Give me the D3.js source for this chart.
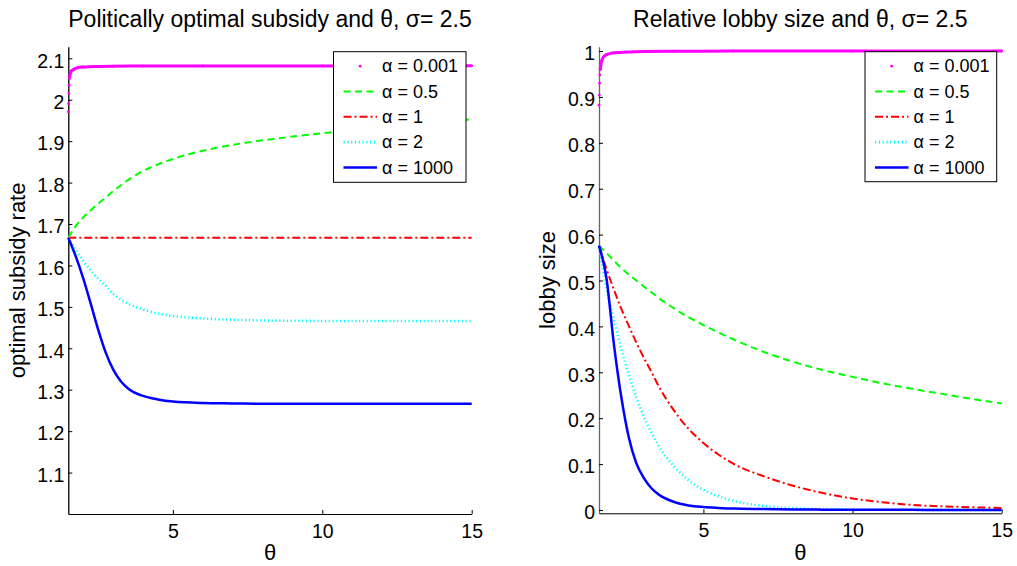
<!DOCTYPE html>
<html><head><meta charset="utf-8">
<script src="https://cdn.jsdelivr.net/npm/d3@7"></script>
<style>
body{margin:0;background:#fff}
svg{display:block}
text{font-family:"Liberation Sans",Arial,Helvetica,sans-serif;fill:#000}
</style></head>
<body><svg id="chart" width="1017" height="566"></svg>
<script>
// ---------- data ----------
const legendLabels = ["α = 0.001", "α = 0.5", "α = 1", "α = 2", "α = 1000"];
const xTicks = [5, 10, 15];
const yTicksLeft = [1.1, 1.2, 1.3, 1.4, 1.5, 1.6, 1.7, 1.8, 1.9, 2, 2.1];
const yTicksRight = [0, 0.1, 0.2, 0.3, 0.4, 0.5, 0.6, 0.7, 0.8, 0.9, 1];

// left panel: politically optimal subsidy
const thetaL = [1.5,1.75,2,2.25,2.5,2.75,3,3.25,3.5,4,4.5,5,6,7,8,9,10,11,12,13,14,15];
const subsidyA05 = [1.667,1.695,1.716,1.733,1.749,1.764,1.779,1.793,1.806,1.828,1.844,1.857,1.877,1.891,1.902,1.911,1.919,1.926,1.932,1.939,1.946,1.953];
const subsidyA1 = [1.6667,1.6667,1.6667,1.6667,1.6667,1.6667,1.6667,1.6667,1.6667,1.6667,1.6667,1.6667,1.6667,1.6667,1.6667,1.6667,1.6667,1.6667,1.6667,1.6667,1.6667,1.6667];
const subsidyA2 = [1.667,1.637,1.611,1.588,1.568,1.551,1.532,1.518,1.508,1.494,1.484,1.478,1.472,1.469,1.467,1.4665,1.466,1.466,1.466,1.466,1.466,1.466];
const subsidyA1000 = [1.667,1.622,1.569,1.508,1.445,1.390,1.349,1.321,1.303,1.285,1.2765,1.2715,1.268,1.267,1.266,1.266,1.266,1.266,1.266,1.266,1.266,1.266];
const thetaML = [1.5,1.51,1.52,1.53,1.54,1.56,1.6,1.7,1.8,2,2.5,3,4,6,10,15];
const subsidyA0001 = [1.971,1.991,2.015,2.035,2.051,2.062,2.069,2.074,2.077,2.079,2.0805,2.081,2.0812,2.0815,2.0817,2.0818];

// right panel: relative lobby size
const thetaR = [1.5,1.75,2,2.25,2.5,2.75,3,3.25,3.5,4,4.5,5,5.5,6,7,8,9,10,11,12,13,14,15];
const lobbyA05 = [0.576,0.560,0.543,0.527,0.513,0.500,0.487,0.475,0.462,0.440,0.420,0.403,0.387,0.372,0.345,0.323,0.305,0.290,0.276,0.264,0.253,0.242,0.232];
const lobbyA1 = [0.576,0.525,0.480,0.438,0.401,0.365,0.332,0.302,0.270,0.218,0.177,0.146,0.121,0.101,0.074,0.053,0.037,0.025,0.017,0.011,0.008,0.006,0.0045];
const lobbyA2 = [0.576,0.482,0.415,0.350,0.295,0.246,0.204,0.170,0.140,0.096,0.065,0.044,0.030,0.020,0.009,0.004,0.002,0.001,0.0006,0.0004,0.0003,0.0002,0.0001];
const lobbyA1000 = [0.576,0.505,0.361,0.245,0.158,0.102,0.070,0.048,0.034,0.018,0.010,0.0065,0.0045,0.003,0.002,0.0012,0.0008,0.0005,0.0004,0.0003,0.0002,0.0002,0.0001];
const thetaMR = [1.5,1.51,1.52,1.53,1.54,1.56,1.6,1.65,1.75,1.9,2.2,2.6,3,4,6,10,15];
const lobbyA0001 = [0.882,0.904,0.930,0.948,0.959,0.969,0.980,0.987,0.992,0.995,0.997,0.998,0.999,0.9995,0.9998,0.9999,1.0];

// ---------- styles ----------
const styles = [
  {color:"#ff00ff", dash:null, width:3, dots:true},
  {color:"#00ff00", dash:"7,4.5", width:2},
  {color:"#ff0000", dash:"8,3,2,3", width:2},
  {color:"#00ffff", dash:"1.2,2.6", width:2.6},
  {color:"#0000ff", dash:null, width:2.5}
];

const svg = d3.select("#chart");

const panels = [
  {
    title:"Politically optimal subsidy and θ, σ= 2.5",
    ylabel:"optimal subsidy rate",
    xr:[68.3,471.7], yd:[1.0,2.128], yr:[514,46.7], yTicks:yTicksLeft,
    ylabX:25, axisColor:"#000",
    series:[
      [thetaML, subsidyA0001],[thetaL, subsidyA05],[thetaL, subsidyA1],[thetaL, subsidyA2],[thetaL, subsidyA1000]
    ],
    legend:{x:333.5,y:51.7,w:132.5,h:130.6}
  },
  {
    title:"Relative lobby size and θ, σ= 2.5",
    ylabel:"lobby size",
    xr:[599,1001.7], yd:[-0.0072,1.0094], yr:[513.3,46.7], yTicks:yTicksRight,
    ylabX:555, axisColor:"#666",
    series:[
      [thetaMR, lobbyA0001],[thetaR, lobbyA05],[thetaR, lobbyA1],[thetaR, lobbyA2],[thetaR, lobbyA1000]
    ],
    legend:{x:865,y:51.7,w:131.7,h:130}
  }
];

panels.forEach(p => {
  const x = d3.scaleLinear().domain([1.5,15]).range(p.xr);
  const y = d3.scaleLinear().domain(p.yd).range(p.yr);
  const g = svg.append("g");

  // axes
  const yAxis = d3.axisLeft(y).tickValues(p.yTicks).tickSizeInner(-4).tickSizeOuter(0).tickPadding(4)
    .tickFormat(d3.format("~g"));
  const gy = g.append("g").attr("transform",`translate(${p.xr[0]},0)`).call(yAxis);
  const xAxis = d3.axisBottom(x).tickValues(xTicks).tickSizeInner(-4).tickSizeOuter(0).tickPadding(10);
  const gx = g.append("g").attr("transform",`translate(0,${p.yr[0]})`).call(xAxis);
  [gx, gy].forEach(a => {
    a.selectAll("path.domain").attr("stroke","#000").attr("stroke-width",1);
    a.selectAll(".tick line").attr("stroke","#000");
    a.selectAll(".tick text").style("font-size","19.5px").attr("font-family",null);
  });
  gy.selectAll("path.domain").attr("stroke",p.axisColor).attr("stroke-width",1.3);
  gy.selectAll(".tick text").attr("dy","0.45em");
  gx.selectAll(".tick text").attr("dy","0.71em");

  // curves
  p.series.forEach((s, i) => {
    const st = styles[i];
    const pts = s[0].map((t, k) => [t, s[1][k]]);
    const line = d3.line().x(d => x(d[0])).y(d => y(d[1])).curve(d3.curveMonotoneX);
    if (st.dots) {
      g.append("path").datum(pts.filter(d => d[0] >= 1.54))
        .attr("d", line).attr("fill","none").attr("stroke",st.color).attr("stroke-width",st.width);
      g.selectAll(null).data(pts).enter().append("circle")
        .attr("cx", d => x(d[0])).attr("cy", d => y(d[1])).attr("r",1.4).attr("fill",st.color);
    } else {
      g.append("path").datum(pts).attr("d", line).attr("fill","none")
        .attr("stroke",st.color).attr("stroke-width",st.width)
        .attr("stroke-dasharray",st.dash);
    }
  });

  // titles and labels
  const cx = (p.xr[0]+p.xr[1])/2;
  g.append("text").attr("x",cx).attr("y",27).attr("text-anchor","middle")
    .style("font-size","23px").text(p.title);
  g.append("text").attr("x",cx).attr("y",560).attr("text-anchor","middle")
    .style("font-size","22px").text("θ");
  g.append("text").attr("transform",`translate(${p.ylabX},${(p.yr[0]+p.yr[1])/2}) rotate(-90)`)
    .attr("text-anchor","middle").style("font-size","22px").text(p.ylabel);

  // legend
  const L = p.legend;
  const lg = g.append("g").attr("transform",`translate(${L.x},${L.y})`);
  lg.append("rect").attr("width",L.w).attr("height",L.h).attr("fill","#fff").attr("stroke","#000").attr("stroke-width",1);
  legendLabels.forEach((lab, i) => {
    const st = styles[i];
    const ry = 14.5 + i*25.3;
    if (st.dots) {
      lg.append("circle").attr("cx",26.7).attr("cy",ry).attr("r",1.4).attr("fill",st.color);
    } else {
      lg.append("line").attr("x1",10).attr("x2",43.5).attr("y1",ry).attr("y2",ry)
        .attr("stroke",st.color).attr("stroke-width",st.width).attr("stroke-dasharray",st.dash);
    }
    lg.append("text").attr("x",48.5).attr("y",ry).attr("dy","0.35em").style("font-size","18px").text(lab);
  });
});
</script>
</body></html>
